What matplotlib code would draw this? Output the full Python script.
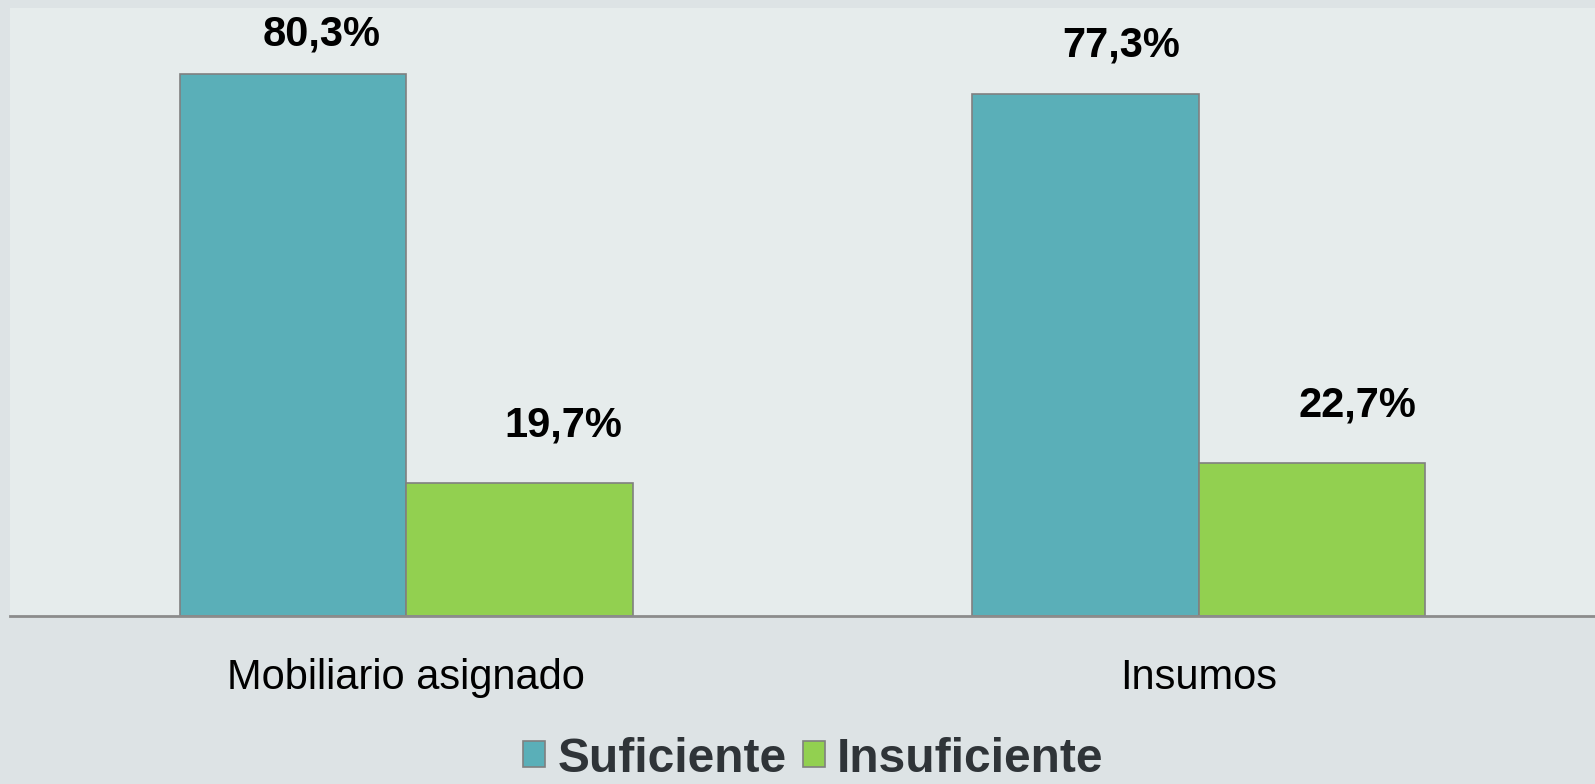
import matplotlib
matplotlib.use("Agg")
import matplotlib.pyplot as plt
import numpy as np
from matplotlib.patches import Patch

categories = ["Mobiliario asignado", "Insumos"]
series_names = ["Suficiente", "Insuficiente"]
suficiente = [80.3, 77.3]
insuficiente = [19.7, 22.7]
value_labels = [["80,3%", "77,3%"], ["19,7%", "22,7%"]]

colors = ["#5AAFB8", "#92D050"]
# label offsets (pixels) per series and category: (dx, dy) from bar top-centre to label centre
label_off_px = [[(29, 39), (36, 48)], [(44, 57), (45, 57)]]

plt.rcParams["font.family"] = ["Liberation Sans", "DejaVu Sans"]

DPI = 100
fig = plt.figure(figsize=(15.95, 7.84), dpi=DPI)
fig.patch.set_facecolor("#DDE3E5")
ax = fig.add_axes([10 / 1595, (784 - 616) / 784, 1 - 10 / 1595, (616 - 8) / 784])
ax.set_facecolor("#E6ECEC")

x = np.arange(len(categories))
w = 0.286
data = [suficiente, insuficiente]
for i, vals in enumerate(data):
    pos = x + (i - 0.5) * w
    ax.bar(pos, vals, width=w, color=colors[i], edgecolor="#808080", linewidth=1.2, zorder=2)
    for j, (p, v, lab) in enumerate(zip(pos, vals, value_labels[i])):
        dx, dy = label_off_px[i][j]
        ax.annotate(lab, xy=(p, v), xytext=(dx * 72 / DPI, dy * 72 / DPI),
                    textcoords="offset points", ha="center", va="center",
                    fontsize=30, fontweight="bold", color="black")

ax.set_xlim(-0.5, 1.5)
ax.set_ylim(0, 90)
ax.set_xticks(x)
ax.set_xticklabels(categories, fontsize=30, color="black")
ax.tick_params(axis="x", length=0, pad=30)
ax.set_yticks([])
for s in ["left", "right", "top"]:
    ax.spines[s].set_visible(False)
ax.spines["bottom"].set_color("#8C8C8C")
ax.spines["bottom"].set_linewidth(2)
ax.spines["bottom"].set_zorder(3)

handles = [Patch(facecolor=colors[i], edgecolor="#808080", linewidth=1.2, label=series_names[i])
           for i in range(2)]
leg = fig.legend(handles=handles, loc="center", bbox_to_anchor=(0.51, (784 - 759) / 784),
                 ncol=2, frameon=False, handlelength=0.46, handleheight=0.46,
                 handletextpad=0.25, columnspacing=0.35, borderpad=0.1,
                 prop={"size": 34.5, "weight": "bold"})
for t in leg.get_texts():
    t.set_color("#2F3438")

fig.savefig("out.png", dpi=DPI, facecolor=fig.get_facecolor())
